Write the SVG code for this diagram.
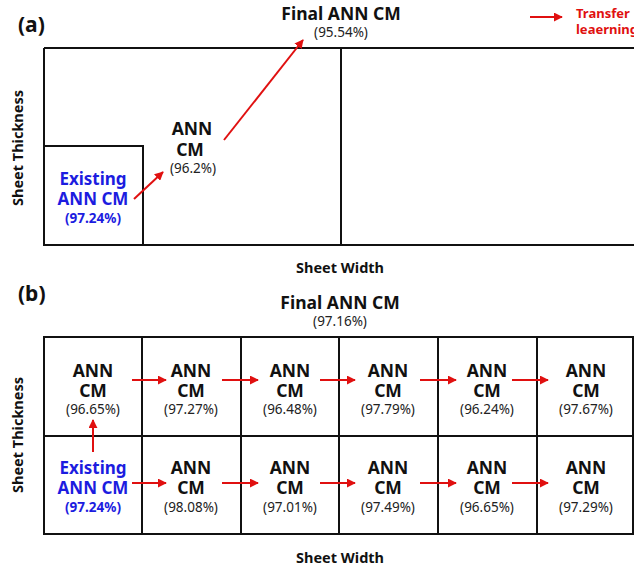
<svg xmlns="http://www.w3.org/2000/svg" width="634" height="570" viewBox="0 0 634 570">
<defs>
<style>
text{font-family:"Noto Sans","Open Sans","Liberation Sans",sans-serif;text-anchor:middle;}
.b{font-weight:bold;font-size:17.5px;fill:#111;}
.p{font-size:13.5px;fill:#222;}
.blue{font-weight:bold;font-size:17px;fill:#1c1ce0;}
.bp{font-size:13.5px;fill:#1c1ce0;font-weight:bold;}
.lab{font-weight:bold;font-size:21px;fill:#111;text-anchor:start;}
.ax{font-weight:bold;font-size:14.5px;fill:#111;}
.box{fill:none;stroke:#111;stroke-width:2;}
.ar{stroke:#e01010;stroke-width:2;fill:none;marker-end:url(#ah);}
.leg{font-weight:bold;font-size:13px;fill:#e01010;text-anchor:start;}
</style>
<marker id="ah" viewBox="0 0 10 10" refX="9" refY="5" markerWidth="4.5" markerHeight="4.5" orient="auto" markerUnits="strokeWidth">
<path d="M0,0 L10,5 L0,10 z" fill="#e01010"/>
</marker>
</defs>
<rect width="634" height="570" fill="#fff"/>

<!-- Panel (a) -->
<text class="lab" x="18" y="32">(a)</text>
<g id="a-frame">
<path class="box" d="M44,48 H640 M44,48 V245 H640 M341,48 V245"/>
<rect class="box" x="44" y="146" width="99" height="99"/>
</g>
<g id="a-existing">
<text class="blue" x="93" y="185">Existing</text>
<text class="blue" x="93" y="205">ANN CM</text>
<text class="bp" x="93" y="223">(97.24%)</text>
</g>
<g id="a-ann">
<text class="b" x="192" y="135">ANN</text>
<text class="b" x="190" y="156">CM</text>
<text class="p" x="193" y="173">(96.2%)</text>
</g>
<g id="a-final">
<text class="b" x="341" y="20">Final ANN CM</text>
<text class="p" x="341" y="37">(95.54%)</text>
</g>
<g id="legend">
<line class="ar" x1="530" y1="17" x2="562" y2="17"/>
<text class="leg" x="576" y="18">Transfer</text>
<text class="leg" x="576" y="34">leaerning</text>
</g>
<text class="ax" transform="translate(23,148) rotate(-90)">Sheet Thickness</text>
<text class="ax" x="340" y="273">Sheet Width</text>
<g id="a-connectors">
<line class="ar" x1="134" y1="199" x2="163" y2="172"/>
<line class="ar" x1="224" y1="140" x2="303" y2="40"/>
</g>

<!-- Panel (b) -->
<text class="lab" x="18" y="301">(b)</text>
<g id="b-grid">
<rect class="box" x="44" y="337" width="589" height="197"/>
<path class="box" d="M44,436 H633 M142,337 V534 M241,337 V534 M339,337 V534 M438,337 V534 M537,337 V534"/>
</g>
<g id="b-final">
<text class="b" x="340" y="309">Final ANN CM</text>
<text class="p" x="340" y="326">(97.16%)</text>
</g>
<g id="b-r1c1"><text class="b" x="93" y="377">ANN</text><text class="b" x="93" y="397">CM</text><text class="p" x="93" y="414">(96.65%)</text></g>
<g id="b-r1c2"><text class="b" x="191" y="377">ANN</text><text class="b" x="191" y="397">CM</text><text class="p" x="191" y="414">(97.27%)</text></g>
<g id="b-r1c3"><text class="b" x="290" y="377">ANN</text><text class="b" x="290" y="397">CM</text><text class="p" x="290" y="414">(96.48%)</text></g>
<g id="b-r1c4"><text class="b" x="388" y="377">ANN</text><text class="b" x="388" y="397">CM</text><text class="p" x="388" y="414">(97.79%)</text></g>
<g id="b-r1c5"><text class="b" x="487" y="377">ANN</text><text class="b" x="487" y="397">CM</text><text class="p" x="487" y="414">(96.24%)</text></g>
<g id="b-r1c6"><text class="b" x="586" y="377">ANN</text><text class="b" x="586" y="397">CM</text><text class="p" x="586" y="414">(97.67%)</text></g>
<g id="b-r2c1"><text class="blue" x="93" y="474">Existing</text><text class="blue" x="93" y="494">ANN CM</text><text class="bp" x="93" y="512">(97.24%)</text></g>
<g id="b-r2c2"><text class="b" x="191" y="474">ANN</text><text class="b" x="191" y="494">CM</text><text class="p" x="191" y="512">(98.08%)</text></g>
<g id="b-r2c3"><text class="b" x="290" y="474">ANN</text><text class="b" x="290" y="494">CM</text><text class="p" x="290" y="512">(97.01%)</text></g>
<g id="b-r2c4"><text class="b" x="388" y="474">ANN</text><text class="b" x="388" y="494">CM</text><text class="p" x="388" y="512">(97.49%)</text></g>
<g id="b-r2c5"><text class="b" x="487" y="474">ANN</text><text class="b" x="487" y="494">CM</text><text class="p" x="487" y="512">(96.65%)</text></g>
<g id="b-r2c6"><text class="b" x="586" y="474">ANN</text><text class="b" x="586" y="494">CM</text><text class="p" x="586" y="512">(97.29%)</text></g>
<text class="ax" transform="translate(23,435) rotate(-90)">Sheet Thickness</text>
<text class="ax" x="340" y="563">Sheet Width</text>
<g id="b-connectors">
<line class="ar" x1="132" y1="380" x2="166" y2="380"/>
<line class="ar" x1="222" y1="380" x2="258" y2="380"/>
<line class="ar" x1="320" y1="380" x2="355" y2="380"/>
<line class="ar" x1="420" y1="380" x2="456" y2="380"/>
<line class="ar" x1="512" y1="380" x2="548" y2="380"/>
<line class="ar" x1="132" y1="483" x2="166" y2="483"/>
<line class="ar" x1="222" y1="483" x2="258" y2="483"/>
<line class="ar" x1="320" y1="483" x2="355" y2="483"/>
<line class="ar" x1="420" y1="483" x2="456" y2="483"/>
<line class="ar" x1="512" y1="483" x2="548" y2="483"/>
<line class="ar" x1="93" y1="452" x2="93" y2="420"/>
</g>
</svg>
